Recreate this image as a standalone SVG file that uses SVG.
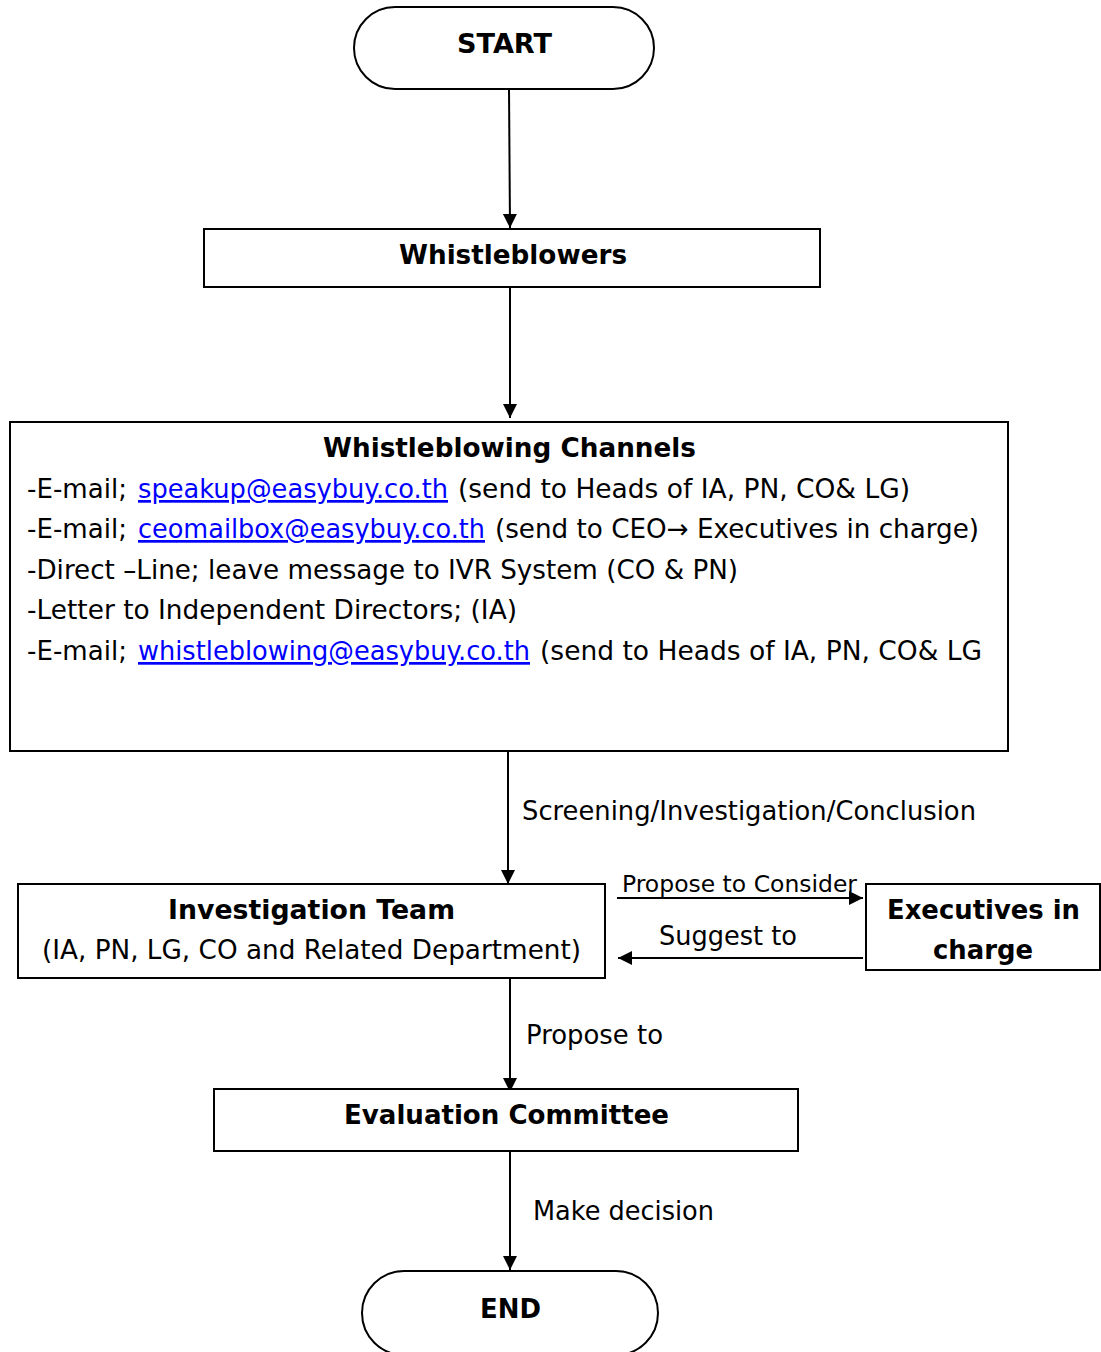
<svg xmlns="http://www.w3.org/2000/svg" width="1101" height="1352" viewBox="0 0 1101 1352">
<style>
text{font-family:"DejaVu Sans","Liberation Sans",sans-serif;font-size:27px;fill:#000}
.b{font-weight:bold}
.c{text-anchor:start}
.lk{fill:#0000ff;text-decoration:underline}
.sm{font-size:23px}
.box{fill:#fff;stroke:#000;stroke-width:2}
.ln{stroke:#000;stroke-width:2;fill:none}
</style>
<defs>
<marker id="ah" markerUnits="userSpaceOnUse" markerWidth="14" markerHeight="16" refX="14" refY="7" orient="auto">
<path d="M0,0 L14,7 L0,14 Z" fill="#000"/>
</marker>
</defs>
<rect width="1101" height="1352" fill="#fff"/>
<g id="connectors">
<line class="ln" x1="509" y1="89" x2="510" y2="228" marker-end="url(#ah)"/>
<line class="ln" x1="510" y1="287" x2="510" y2="418" marker-end="url(#ah)"/>
<line class="ln" x1="508" y1="751" x2="508" y2="884" marker-end="url(#ah)"/>
<line class="ln" x1="510" y1="978" x2="510" y2="1092" marker-end="url(#ah)"/>
<line class="ln" x1="510" y1="1151" x2="510" y2="1270" marker-end="url(#ah)"/>
<line class="ln" x1="617" y1="898" x2="863" y2="898" marker-end="url(#ah)"/>
<line class="ln" x1="863" y1="958" x2="618" y2="958" marker-end="url(#ah)"/>
<text x="522" y="820" textLength="454" lengthAdjust="spacingAndGlyphs">Screening/Investigation/Conclusion</text>
<text class="sm" x="622" y="892" textLength="235" lengthAdjust="spacingAndGlyphs">Propose to Consider</text>
<text x="659" y="945" textLength="138" lengthAdjust="spacingAndGlyphs">Suggest to</text>
<text x="526" y="1044" textLength="137" lengthAdjust="spacingAndGlyphs">Propose to</text>
<text x="533" y="1220" textLength="181" lengthAdjust="spacingAndGlyphs">Make decision</text>
</g>
<g id="start">
<rect class="box" x="354" y="7" width="300" height="82" rx="41" ry="41"/>
<text class="b" x="457" y="53" textLength="95" lengthAdjust="spacingAndGlyphs">START</text>
</g>
<g id="whistleblowers">
<rect class="box" x="204" y="229" width="616" height="58"/>
<text class="b" x="399" y="264" textLength="228" lengthAdjust="spacingAndGlyphs">Whistleblowers</text>
</g>
<g id="channels">
<rect class="box" x="10" y="422" width="998" height="329"/>
<text class="b" x="323" y="457" textLength="373" lengthAdjust="spacingAndGlyphs">Whistleblowing Channels</text>
<text x="27" y="498" textLength="100" lengthAdjust="spacingAndGlyphs">-E-mail;</text>
<text class="lk" x="138" y="498" textLength="310" lengthAdjust="spacingAndGlyphs">speakup@easybuy.co.th</text>
<text x="458" y="498" textLength="452" lengthAdjust="spacingAndGlyphs">(send to Heads of IA, PN, CO&amp; LG)</text>
<text x="27" y="538" textLength="100" lengthAdjust="spacingAndGlyphs">-E-mail;</text>
<text class="lk" x="138" y="538" textLength="347" lengthAdjust="spacingAndGlyphs">ceomailbox@easybuy.co.th</text>
<text x="495" y="538" textLength="484" lengthAdjust="spacingAndGlyphs">(send to CEO→ Executives in charge)</text>
<text x="27" y="579" textLength="711" lengthAdjust="spacingAndGlyphs">-Direct –Line; leave message to IVR System (CO &amp; PN)</text>
<text x="27" y="619" textLength="490" lengthAdjust="spacingAndGlyphs">-Letter to Independent Directors; (IA)</text>
<text x="27" y="660" textLength="100" lengthAdjust="spacingAndGlyphs">-E-mail;</text>
<text class="lk" x="138" y="660" textLength="392" lengthAdjust="spacingAndGlyphs">whistleblowing@easybuy.co.th</text>
<text x="540" y="660" textLength="442" lengthAdjust="spacingAndGlyphs">(send to Heads of IA, PN, CO&amp; LG</text>
</g>
<g id="investigation">
<rect class="box" x="18" y="884" width="587" height="94"/>
<text class="b" x="168" y="919" textLength="287" lengthAdjust="spacingAndGlyphs">Investigation Team</text>
<text x="42" y="959" textLength="539" lengthAdjust="spacingAndGlyphs">(IA, PN, LG, CO and Related Department)</text>
</g>
<g id="executives">
<rect class="box" x="866" y="884" width="234" height="86"/>
<text class="b" x="887" y="919" textLength="193" lengthAdjust="spacingAndGlyphs">Executives in</text>
<text class="b" x="933" y="959" textLength="100" lengthAdjust="spacingAndGlyphs">charge</text>
</g>
<g id="evaluation">
<rect class="box" x="214" y="1089" width="584" height="62"/>
<text class="b" x="344" y="1124" textLength="325" lengthAdjust="spacingAndGlyphs">Evaluation Committee</text>
</g>
<g id="end">
<rect class="box" x="362" y="1271" width="296" height="84" rx="42" ry="42"/>
<text class="b" x="480" y="1318" textLength="61" lengthAdjust="spacingAndGlyphs">END</text>
</g>
</svg>
